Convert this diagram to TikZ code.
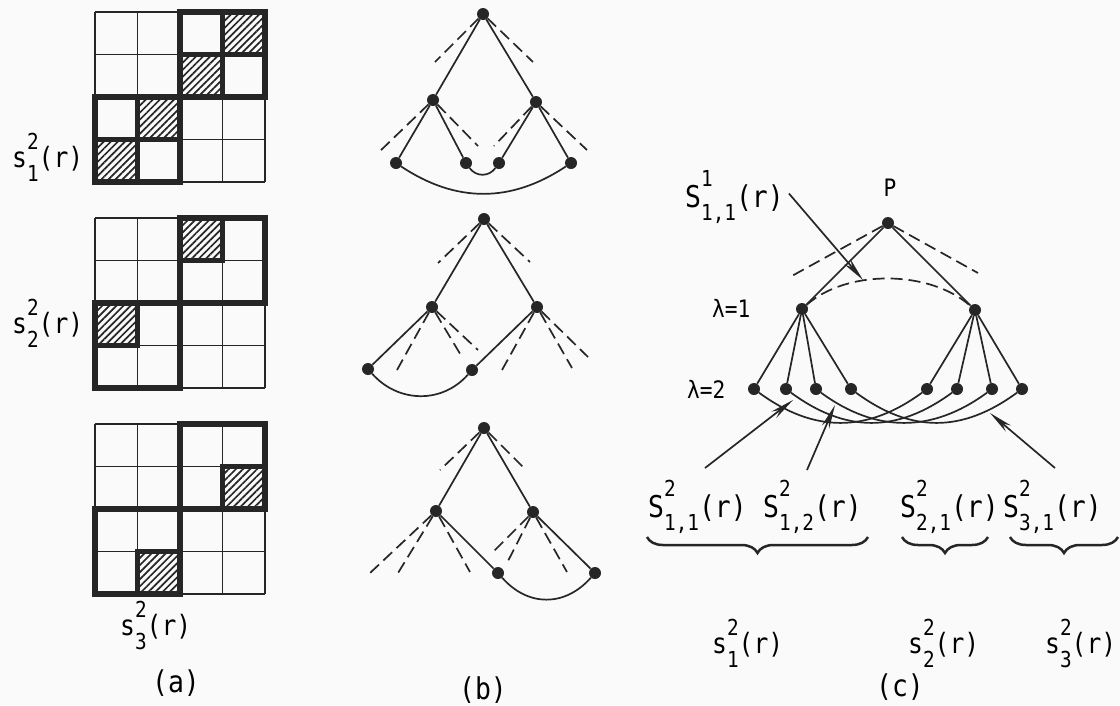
\documentclass[tikz,border=0pt]{standalone}
\usepackage{fontspec}
\setmainfont[FakeStretch=0.88]{DejaVu Sans Mono}
\usetikzlibrary{arrows.meta,patterns.meta,decorations.pathreplacing}
\newcommand\scr{\fontsize{22}{22}\selectfont}
\newcommand\glab[3]{#1\rlap{\raisebox{18pt}{\scr #2}}\raisebox{-14pt}{\scr #3}(r)}
\newcommand\Glab[3]{#1\rlap{\raisebox{21pt}{\scr #2}}\raisebox{-13pt}{\scr #3}(r)}
\newcommand\cellrect[2]{(95+42.5*#2,42.5*#1) rectangle (137.5+42.5*#2,42.5+42.5*#1)}
\begin{document}
\begin{tikzpicture}[x=1pt,y=-1pt,
  ink/.style={draw=black!85},
  dot/.style={circle,fill=black!85,inner sep=0pt,minimum size=12pt},
  edge/.style={ink,line width=1.7pt},
  dedge/.style={edge,dash pattern=on 12pt off 6pt},
  arr/.style={edge,-{Stealth[length=24pt,width=8pt]}},
  gthin/.style={ink,line width=1.8pt},
  gthick/.style={ink,line width=5.5pt,line join=miter},
  hatch/.style={pattern={Lines[angle=45,distance=5pt,line width=1.7pt]},pattern color=black!85},
  lab/.style={font=\fontsize{28}{32}\selectfont,inner sep=0pt},
  blab/.style={font=\fontsize{30}{34}\selectfont,inner sep=0pt},
  slab/.style={font=\fontsize{24}{28}\selectfont,inner sep=0pt},
  brace/.style={ink,line width=2.5pt,decorate,decoration={brace,mirror,amplitude=16pt}}]
\fill[black!2] (0,0) rectangle (1120,705);
\useasboundingbox (0,0) rectangle (1120,705);

% ---------- (a) grids ----------
\begin{scope}[shift={(0,12)}]
  \foreach \r/\c in {0/3,1/2,2/1,3/0} \fill[hatch] \cellrect{\r}{\c};
  \foreach \i in {0,...,4} {\draw[gthin] (95+42.5*\i,0) -- (95+42.5*\i,170);
                            \draw[gthin] (95,42.5*\i) -- (265,42.5*\i);}
  \draw[gthick] (180,0) rectangle (265,85);
  \draw[gthick] (95,85) rectangle (180,170);
  \foreach \r/\c in {0/3,1/2,2/1,3/0} \draw[gthick] \cellrect{\r}{\c};
\end{scope}
\begin{scope}[shift={(0,218)}]
  \foreach \r/\c in {0/2,2/0} \fill[hatch] \cellrect{\r}{\c};
  \foreach \i in {0,...,4} {\draw[gthin] (95+42.5*\i,0) -- (95+42.5*\i,170);
                            \draw[gthin] (95,42.5*\i) -- (265,42.5*\i);}
  \draw[gthick] (180,0) rectangle (265,85);
  \draw[gthick] (95,85) rectangle (180,170);
  \foreach \r/\c in {0/2,2/0} \draw[gthick] \cellrect{\r}{\c};
\end{scope}
\begin{scope}[shift={(0,424)}]
  \foreach \r/\c in {1/3,3/1} \fill[hatch] \cellrect{\r}{\c};
  \foreach \i in {0,...,4} {\draw[gthin] (95+42.5*\i,0) -- (95+42.5*\i,170);
                            \draw[gthin] (95,42.5*\i) -- (265,42.5*\i);}
  \draw[gthick] (180,0) rectangle (265,85);
  \draw[gthick] (95,85) rectangle (180,170);
  \foreach \r/\c in {1/3,3/1} \draw[gthick] \cellrect{\r}{\c};
\end{scope}
\node[lab,anchor=base west] (la1) at (12,167) {\glab{s}{2}{1}};
\node[lab,anchor=base west] (la2) at (12,333) {\glab{s}{2}{2}};
\node[lab,anchor=base west] (la3) at (120,635) {\glab{s}{2}{3}};
\node[blab] (capa) at (176,683) {(a)};

% ---------- (b) tree 1 ----------
\node[dot] (b1r) at (483,14) {};
\node[dot] (b1l) at (433,100) {};
\node[dot] (b1q) at (536,102) {};
\node[dot] (b1a) at (396,163) {};
\node[dot] (b1b) at (466,163) {};
\node[dot] (b1c) at (499,163) {};
\node[dot] (b1d) at (571,163) {};
\coordinate (b1r1) at (435,62);  \coordinate (b1r2) at (533,62);
\coordinate (b1l1) at (378,153); \coordinate (b1l2) at (478,146);
\coordinate (b1q1) at (494,146); \coordinate (b1q2) at (587,150);
\draw[edge] (b1r) -- (b1l); \draw[edge] (b1r) -- (b1q);
\draw[edge] (b1l) -- (b1a); \draw[edge] (b1l) -- (b1b);
\draw[edge] (b1q) -- (b1c); \draw[edge] (b1q) -- (b1d);
\draw[dedge] (b1r) -- (b1r1); \draw[dedge] (b1r) -- (b1r2);
\draw[dedge] (b1l) -- (b1l1); \draw[dedge] (b1l) -- (b1l2);
\draw[dedge] (b1q) -- (b1q1); \draw[dedge] (b1q) -- (b1q2);
\draw[edge] (b1a) .. controls +(60,40) and +(-60,40) .. (b1d);
\draw[edge] (b1b) .. controls +(10,14) and +(-10,14) .. (b1c);

% ---------- (b) tree 2 ----------
\node[dot] (b2r) at (484,219) {};
\node[dot] (b2l) at (432,307) {};
\node[dot] (b2q) at (537,307) {};
\node[dot] (b2a) at (368,369) {};
\node[dot] (b2b) at (472,370) {};
\coordinate (b2r1) at (438,263); \coordinate (b2r2) at (530,262);
\coordinate (b2l1) at (397,370); \coordinate (b2l2) at (462,357); \coordinate (b2l3) at (478,350);
\coordinate (b2q1) at (502,370); \coordinate (b2q2) at (572,368); \coordinate (b2q3) at (588,357);
\draw[edge] (b2r) -- (b2l); \draw[edge] (b2r) -- (b2q);
\draw[edge] (b2l) -- (b2a); \draw[edge] (b2q) -- (b2b);
\draw[dedge] (b2r) -- (b2r1); \draw[dedge] (b2r) -- (b2r2);
\foreach \k in {1,2,3} {\draw[dedge] (b2l) -- (b2l\k); \draw[dedge] (b2q) -- (b2q\k);}
\draw[edge] (b2a) .. controls +(30,34) and +(-30,34) .. (b2b);

% ---------- (b) tree 3 ----------
\node[dot] (b3r) at (484,428) {};
\node[dot] (b3l) at (436,511) {};
\node[dot] (b3q) at (533,512) {};
\node[dot] (b3a) at (498,573) {};
\node[dot] (b3b) at (595,573) {};
\coordinate (b3r1) at (440,470); \coordinate (b3r2) at (523,467);
\coordinate (b3l1) at (370,573); \coordinate (b3l2) at (398,573); \coordinate (b3l3) at (470,572);
\coordinate (b3q1) at (493,552); \coordinate (b3q2) at (507,563); \coordinate (b3q3) at (567,572);
\draw[edge] (b3r) -- (b3l); \draw[edge] (b3r) -- (b3q);
\draw[edge] (b3l) -- (b3a); \draw[edge] (b3q) -- (b3b);
\draw[dedge] (b3r) -- (b3r1); \draw[dedge] (b3r) -- (b3r2);
\foreach \k in {1,2,3} {\draw[dedge] (b3l) -- (b3l\k); \draw[dedge] (b3q) -- (b3q\k);}
\draw[edge] (b3a) .. controls +(30,34) and +(-30,34) .. (b3b);
\node[blab] (capb) at (483,690) {(b)};

% ---------- (c) ----------
\node[dot] (cP) at (888,223) {};
\node[font=\fontsize{24}{28}\selectfont,inner sep=0pt] (lP) at (890,188) {P};
\node[dot] (cL) at (802,309) {};
\node[dot] (cR) at (975,310) {};
\foreach \n/\x in {1/754,2/786,3/816,4/851,5/927,6/957,7/992,8/1022}
  \node[dot] (cv\n) at (\x,389) {};
\coordinate (cP1) at (790,277); \coordinate (cP2) at (978,273);
\draw[edge] (cP) -- (cL); \draw[edge] (cP) -- (cR);
\draw[dedge] (cP) -- (cP1); \draw[dedge] (cP) -- (cP2);
\foreach \n in {1,2,3,4} \draw[edge] (cL) -- (cv\n);
\foreach \n in {5,6,7,8} \draw[edge] (cR) -- (cv\n);
\draw[dedge] (cL) .. controls +(45,-40) and +(-45,-40) .. (cR);
\foreach \a/\b in {1/5,2/6,3/7,4/8}
  \draw[edge] (cv\a) .. controls +(60,44) and +(-60,44) .. (cv\b);
\node[slab,anchor=base west] (lam1) at (712,317) {λ=1};
\node[slab,anchor=base west] (lam2) at (687,398) {λ=2};

\node[blab,anchor=base west] (lS11) at (685,207) {\Glab{S}{1}{1,1}};
\coordinate (hS11) at (863,280);
\draw[arr] ([xshift=5pt,yshift=3pt]lS11.east) -- (hS11);

\node[blab,anchor=base west] (lA) at (648,517) {\Glab{S}{2}{1,1}};
\node[blab,anchor=base west] (lB) at (763,517) {\Glab{S}{2}{1,2}};
\node[blab,anchor=base west] (lC) at (900,517) {\Glab{S}{2}{2,1}};
\node[blab,anchor=base west] (lD) at (1003,517) {\Glab{S}{2}{3,1}};
\coordinate (tA) at (705,468); \coordinate (hA) at (793,400);
\coordinate (tB) at (807,470); \coordinate (hB) at (835,405);
\coordinate (tD) at (1055,468); \coordinate (hD) at (990,413);
\draw[arr] (tA) -- (hA);
\draw[arr] (tB) -- (hB);
\draw[arr] (tD) -- (hD);

\coordinate (br1a) at (647,537); \coordinate (br1b) at (868,537);
\coordinate (br2a) at (902,537); \coordinate (br2b) at (988,537);
\coordinate (br3a) at (1010,537); \coordinate (br3b) at (1118,537);
\draw[brace] (br1a) -- (br1b);
\draw[brace] (br2a) -- (br2b);
\draw[brace] (br3a) -- (br3b);

\node[lab,anchor=base west] (ls1) at (712,653) {\glab{s}{2}{1}};
\node[lab,anchor=base west] (ls2) at (908,653) {\glab{s}{2}{2}};
\node[lab,anchor=base west] (ls3) at (1045,653) {\glab{s}{2}{3}};
\node[blab] (capc) at (900,687) {(c)};
\end{tikzpicture}
\end{document}
